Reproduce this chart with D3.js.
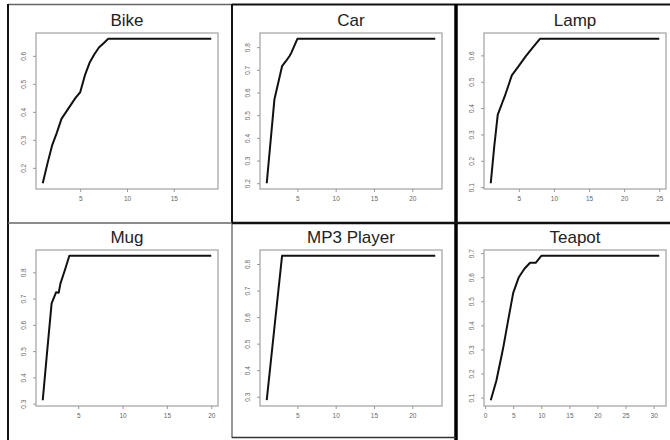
<!DOCTYPE html>
<html>
<head>
<meta charset="utf-8">
<script src="https://cdn.jsdelivr.net/npm/d3@7"></script>
<style>
  body { margin: 0; background: #fff; }
  svg { display: block; }
  .tick text { font-family: "Liberation Sans", Arial, sans-serif; font-size: 6.5px; fill: #666; }
  .tick line { stroke: #999; }
</style>
</head>
<body>
<div id="chart"></div>
<script>
'use strict';

// one panel per product
var titles = ['Bike', 'Car', 'Lamp', 'Mug', 'MP3 Player', 'Teapot'];

var bikeX = [1, 1.5, 2, 2.5, 3, 3.5, 4, 4.5, 5, 5.5, 6, 6.5, 7, 7.5, 8, 19];
var bikeY = [0.145, 0.215, 0.28, 0.325, 0.375, 0.40, 0.425, 0.45, 0.47, 0.53, 0.575, 0.605, 0.63, 0.645, 0.661, 0.661];

var carX = [1, 2, 3, 3.5, 4, 4.2, 5, 23];
var carY = [0.20, 0.569, 0.716, 0.738, 0.762, 0.775, 0.837, 0.837];

var lampX = [1, 1.5, 2, 2.5, 2.7, 3, 4, 5, 6, 7, 8, 25];
var lampY = [0.115, 0.255, 0.375, 0.41, 0.425, 0.445, 0.524, 0.56, 0.597, 0.63, 0.663, 0.663];

var mugX = [1, 1.5, 2, 2.5, 2.8, 3, 3.5, 4, 20];
var mugY = [0.313, 0.50, 0.682, 0.724, 0.722, 0.758, 0.809, 0.863, 0.863];

var mp3X = [1, 2, 3, 23];
var mp3Y = [0.287, 0.56, 0.831, 0.831];

var teapotX = [1, 2, 3, 3.3, 4, 5, 6, 7, 8, 9, 10, 31];
var teapotY = [0.089, 0.17, 0.282, 0.317, 0.408, 0.535, 0.60, 0.635, 0.66, 0.66, 0.689, 0.689];

var xTickSets = [
    [5, 10, 15],
    [5, 10, 15, 20],
    [5, 10, 15, 20, 25],
    [5, 10, 15, 20],
    [5, 10, 15, 20],
    [0, 5, 10, 15, 20, 25, 30]
];
var yTickSets = [
    [0.2, 0.3, 0.4, 0.5, 0.6],
    [0.2, 0.3, 0.4, 0.5, 0.6, 0.7, 0.8],
    [0.1, 0.2, 0.3, 0.4, 0.5, 0.6],
    [0.3, 0.4, 0.5, 0.6, 0.7, 0.8],
    [0.3, 0.4, 0.5, 0.6, 0.7, 0.8],
    [0.1, 0.2, 0.3, 0.4, 0.5, 0.6, 0.7]
];

var seriesX = [bikeX, carX, lampX, mugX, mp3X, teapotX];
var seriesY = [bikeY, carY, lampY, mugY, mp3Y, teapotY];

var width = 670;
var height = 440;

var boxLeft = [36, 260, 484];
var boxTop = [33, 250];
var boxW = 182;
var boxH = 156;

var svg = d3.select('#chart')
            .append('svg')
            .attr('width', width)
            .attr('height', height);

// R style range: data extent padded by 4% each side
var padded = function(vals) {
    var ext = d3.extent(vals);
    var pad = (ext[1] - ext[0]) * 0.04;
    return [ext[0] - pad, ext[1] + pad];
};

titles.forEach(function(title, i) {
    var col = i % 3;
    var row = Math.floor(i / 3);
    var left = boxLeft[col];
    var top = boxTop[row];

    var x = d3.scaleLinear().domain(padded(seriesX[i])).range([left, left + boxW]);
    var y = d3.scaleLinear().domain(padded(seriesY[i])).range([top + boxH, top]);

    var g = svg.append('g').attr('class', 'panel');

    g.append('rect')
        .attr('x', left)
        .attr('y', top)
        .attr('width', boxW)
        .attr('height', boxH)
        .attr('fill', 'none')
        .attr('stroke', '#a8a8a8')
        .attr('stroke-width', 1.3);

    var xAxis = g.append('g')
        .attr('transform', 'translate(0,' + (top + boxH) + ')')
        .call(d3.axisBottom(x).tickValues(xTickSets[i]).tickSize(3).tickPadding(4).tickFormat(d3.format('d')));
    xAxis.select('.domain').remove();

    var yAxis = g.append('g')
        .attr('transform', 'translate(' + left + ',0)')
        .call(d3.axisLeft(y).tickValues(yTickSets[i]).tickSize(3).tickFormat(d3.format('.1f')));
    yAxis.select('.domain').remove();
    yAxis.selectAll('.tick text')
        .attr('transform', 'rotate(-90)')
        .attr('x', 0)
        .attr('y', -10.5)
        .attr('dy', 0)
        .attr('text-anchor', 'middle');

    var pts = seriesX[i].map(function(v, k) { return [v, seriesY[i][k]]; });
    var line = d3.line()
        .x(function(d) { return x(d[0]); })
        .y(function(d) { return y(d[1]); });

    g.append('path')
        .datum(pts)
        .attr('d', line)
        .attr('fill', 'none')
        .attr('stroke', '#111')
        .attr('stroke-width', 2)
        .attr('stroke-linejoin', 'round');

    g.append('text')
        .attr('x', left + boxW / 2)
        .attr('y', top - 7.5)
        .attr('text-anchor', 'middle')
        .style('font-family', '"Liberation Sans", Arial, sans-serif')
        .style('font-size', '17px')
        .style('fill', '#222')
        .text(title);
});

// table frame around the panels
var frame = [
    [8, 4.5, 232, 4.5, '#666', 1.5],
    [232, 4.5, 670, 4.5, '#111', 2],
    [8, 4, 8, 440, '#111', 2],
    [232, 4, 232, 223, '#111', 2],
    [232, 223, 232, 438, '#777', 1.5],
    [456, 4, 456, 440, '#000', 3.5],
    [8, 223, 232, 223, '#666', 1.5],
    [232, 223, 670, 223, '#111', 2.5],
    [232, 437.5, 456, 437.5, '#333', 1.5]
];
svg.selectAll('line.frame')
    .data(frame)
    .enter()
    .append('line')
    .attr('class', 'frame')
    .attr('x1', function(d) { return d[0]; })
    .attr('y1', function(d) { return d[1]; })
    .attr('x2', function(d) { return d[2]; })
    .attr('y2', function(d) { return d[3]; })
    .attr('stroke', function(d) { return d[4]; })
    .attr('stroke-width', function(d) { return d[5]; });
</script>
</body>
</html>
